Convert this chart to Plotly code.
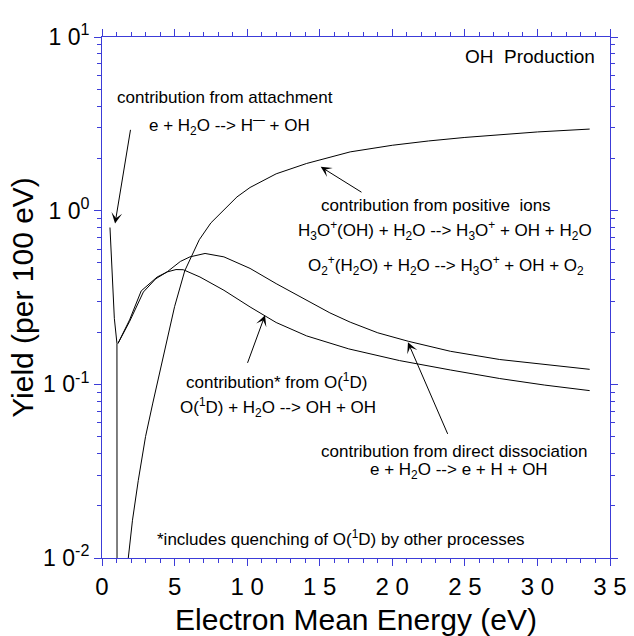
import plotly.graph_objects as go

# OH production yields (per 100 eV) versus electron mean energy (eV)
attach_E = [0.55, 0.85, 1.03, 1.04]
attach_Y = [0.80, 0.24, 0.172, 0.001]

ion_E = [1.75, 2.1, 2.5, 3.0, 3.5, 4.0, 4.5, 5.0, 5.7, 6.7, 7.5, 8.4, 9.3, 10.2,
         12.0, 14.1, 15.7, 17.1, 20.0, 22.5, 25.0, 27.5, 30.0, 33.6]
ion_Y = [0.009, 0.0165, 0.028, 0.05, 0.078, 0.118, 0.185, 0.28, 0.45, 0.68, 0.85,
         1.01, 1.20, 1.36, 1.63, 1.87, 2.04, 2.18, 2.38, 2.52, 2.64, 2.75, 2.84, 2.95]

diss_E = [1.1, 1.9, 2.85, 3.7, 4.5, 4.9, 5.4, 6.06, 7.1, 8.4, 10.2, 12.0, 14.1,
          15.7, 17.1, 19.0, 21.1, 24.0, 27.4, 30.5, 33.6]
diss_Y = [0.172, 0.23, 0.34, 0.405, 0.445, 0.474, 0.51, 0.542, 0.567, 0.542,
          0.465, 0.38, 0.305, 0.258, 0.228, 0.198, 0.177, 0.155, 0.139, 0.13, 0.122]

o1d_E = [1.1, 1.9, 2.7, 3.8, 4.5, 5.1, 5.6, 6.75, 8.4, 10.2, 12.0, 14.1,
         17.0, 20.5, 24.0, 27.4, 30.5, 33.6]
o1d_Y = [0.172, 0.235, 0.345, 0.415, 0.444, 0.458, 0.457, 0.415, 0.348, 0.279,
         0.227, 0.19, 0.16, 0.137, 0.121, 0.108, 0.099, 0.092]

x_ticks = [0, 5, 10, 15, 20, 25, 30, 35]
x_ticktext = ["0", "5", "1 0", "1 5", "2 0", "2 5", "3 0", "3 5"]
y_ticks = [0.01, 0.1, 1, 10]
y_ticktext = ["1 0<sup>-2</sup>", "1 0<sup>-1</sup>", "1 0<sup>0</sup>", "1 0<sup>1</sup>"]

FONT = "Liberation Sans, Arial, sans-serif"
AXIS_BLUE = "#3c3cd8"

fig = go.Figure()
line_style = dict(color="black", width=1)
for xs, ys in [(attach_E, attach_Y), (ion_E, ion_Y), (diss_E, diss_Y), (o1d_E, o1d_Y)]:
    fig.add_trace(go.Scatter(x=xs, y=ys, mode="lines", line=line_style,
                             showlegend=False, hoverinfo="skip"))

TXT = dict(family=FONT, size=17, color="black")
labels = [
    (8.47, 0.654, "contribution from attachment"),
    (8.8, 0.49, "e + H<sub>2</sub>O --> H<sup>\u2014</sup> + OH"),
    (23.0, 0.032, "contribution from positive  ions"),
    (23.6, -0.112, "H<sub>3</sub>O<sup>+</sup>(OH) + H<sub>2</sub>O --> H<sub>3</sub>O<sup>+</sup> + OH + H<sub>2</sub>O"),
    (23.7, -0.314, "O<sub>2</sub><sup>+</sup>(H<sub>2</sub>O) + H<sub>2</sub>O --> H<sub>3</sub>O<sup>+</sup> + OH + O<sub>2</sub>"),
    (12.04, -0.981, "contribution* from O(<sup>1</sup>D)"),
    (12.13, -1.131, "O(<sup>1</sup>D) + H<sub>2</sub>O --> OH + OH"),
    (24.28, -1.386, "contribution from direct dissociation"),
    (24.6, -1.50, "e + H<sub>2</sub>O --> e + H + OH"),
    (16.5, -1.882, "*includes quenching of O(<sup>1</sup>D) by other processes"),
]
for x, y, t in labels:
    fig.add_annotation(x=x, y=y, xref="x", yref="y", text=t, showarrow=False,
                       font=TXT, xanchor="center", yanchor="middle")

fig.add_annotation(x=34.1, y=0.885, xref="x", yref="y", text="OH  Production",
                   showarrow=False, font=dict(family=FONT, size=19, color="black"),
                   xanchor="right", yanchor="middle")

# arrows: (tail x, tail log y) -> (tip x, tip log y)
arrows = [
    (1.98, 0.474, 0.9, -0.074),
    (17.98, 0.101, 15.07, 0.2525),
    (9.99, -0.885, 11.23, -0.602),
    (23.86, -1.294, 21.08, -0.758),
]
for ax_, ay_, x, y in arrows:
    fig.add_annotation(x=x, y=y, ax=ax_, ay=ay_, xref="x", yref="y", axref="x", ayref="y",
                       text="", showarrow=True, arrowhead=3, arrowsize=1.8,
                       arrowwidth=1, arrowcolor="black", standoff=0)

fig.update_xaxes(
    range=[0, 35], tickmode="array", tickvals=x_ticks, ticktext=x_ticktext,
    ticks="outside", ticklen=7, tickwidth=1, tickcolor=AXIS_BLUE,
    showline=True, linecolor=AXIS_BLUE, linewidth=1, mirror="allticks",
    showgrid=False, zeroline=False,
    tickfont=dict(family=FONT, size=24, color="black"),
    minor=dict(dtick=1, ticks="outside", ticklen=4, tickcolor=AXIS_BLUE, showgrid=False),
    title=dict(text="Electron Mean Energy (eV)", font=dict(family=FONT, size=30, color="black"),
               standoff=12),
    automargin=False,
)
fig.update_yaxes(
    type="log", range=[-2, 1], tickmode="array", tickvals=y_ticks, ticktext=y_ticktext,
    ticks="outside", ticklen=7, tickwidth=1, tickcolor=AXIS_BLUE,
    showline=True, linecolor=AXIS_BLUE, linewidth=1, mirror="allticks",
    showgrid=False, zeroline=False,
    tickfont=dict(family=FONT, size=23, color="black"),
    minor=dict(dtick="D1", ticks="outside", ticklen=4, tickcolor=AXIS_BLUE, showgrid=False),
    title=dict(text="Yield (per 100 eV)", font=dict(family=FONT, size=30, color="black"),
               standoff=0),
    automargin=False,
)
fig.update_layout(
    width=634, height=636,
    margin=dict(l=102, r=24, t=37, b=78),
    paper_bgcolor="white", plot_bgcolor="white",
)
fig.write_html("out.html")
